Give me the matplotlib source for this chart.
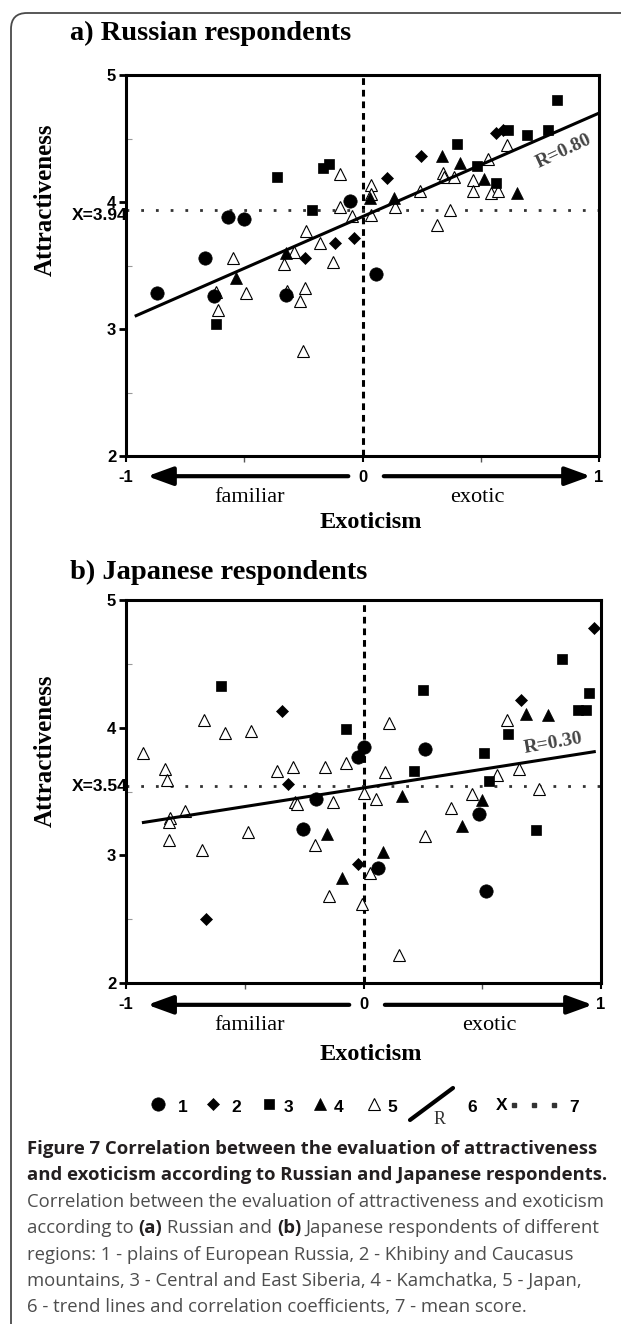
import numpy as np
import matplotlib
matplotlib.use("Agg")
import matplotlib.pyplot as plt
from matplotlib.patches import FancyBboxPatch
from matplotlib.transforms import blended_transform_factory

W, H = 621, 1324

# a) Russian respondents: exoticism (x) vs attractiveness (y), by region group
ru_plains_x = [-0.87, -0.665, -0.63, -0.568, -0.502, -0.325, -0.054, 0.056]
ru_plains_y = [3.28, 3.56, 3.26, 3.88, 3.87, 3.27, 4.01, 3.43]
ru_mount_x = [-0.245, -0.115, -0.035, 0.104, 0.247, 0.563, 0.592]
ru_mount_y = [3.56, 3.68, 3.72, 4.19, 4.36, 4.54, 4.57]
ru_sib_x = [-0.62, -0.36, -0.215, -0.166, -0.141, 0.398, 0.486, 0.564, 0.614, 0.697, 0.784, 0.823]
ru_sib_y = [3.04, 4.20, 3.94, 4.27, 4.30, 4.46, 4.28, 4.15, 4.57, 4.53, 4.57, 4.80]
ru_kam_x = [-0.534, -0.324, 0.03, 0.132, 0.336, 0.413, 0.512, 0.655]
ru_kam_y = [3.40, 3.60, 4.03, 4.03, 4.36, 4.31, 4.18, 4.07]
ru_jap_x = [-0.612, -0.62, -0.549, -0.491, -0.33, -0.32, -0.29, -0.265, -0.242, -0.25,
            -0.237, -0.178, -0.126, -0.094, -0.096, -0.043, 0.034, 0.034, 0.034, 0.139,
            0.245, 0.314, 0.37, 0.342, 0.346, 0.389, 0.468, 0.466, 0.53, 0.545, 0.574, 0.612]
ru_jap_y = [3.15, 3.29, 3.56, 3.28, 3.51, 3.30, 3.61, 3.22, 3.32, 2.83,
            3.77, 3.68, 3.53, 3.96, 4.22, 3.89, 4.13, 4.06, 3.90, 3.96,
            4.09, 3.82, 3.94, 4.23, 4.20, 4.20, 4.17, 4.09, 4.34, 4.07, 4.09, 4.45]
ru_trend = (0.815, 3.885)          # slope, intercept
ru_trend_span = (-0.963, 1.0)
ru_mean = 3.94
ru_r = 0.80

# b) Japanese respondents
jp_plains_x = [-0.256, -0.2, -0.024, 0.002, 0.06, 0.26, 0.485, 0.514]
jp_plains_y = [3.21, 3.44, 3.77, 3.85, 2.90, 3.83, 3.32, 2.72]
jp_mount_x = [-0.664, -0.345, -0.318, -0.023, 0.662, 0.97]
jp_mount_y = [2.50, 4.13, 3.555, 2.93, 4.22, 4.78]
jp_sib_x = [-0.599, -0.073, 0.211, 0.252, 0.508, 0.53, 0.61, 0.726, 0.834, 0.905, 0.935, 0.95]
jp_sib_y = [4.33, 3.99, 3.66, 4.295, 3.80, 3.585, 3.95, 3.20, 4.535, 4.14, 4.14, 4.27]
jp_kam_x = [-0.153, -0.089, 0.082, 0.163, 0.414, 0.498, 0.684, 0.776]
jp_kam_y = [3.165, 2.82, 3.03, 3.465, 3.23, 3.43, 4.11, 4.10]
jp_jap_x = [-0.928, -0.836, -0.826, -0.813, -0.817, -0.817, -0.75, -0.682, -0.672, -0.582,
            -0.487, -0.473, -0.363, -0.296, -0.288, -0.282, -0.204, -0.163, -0.13, -0.145,
            -0.075, 0.003, -0.005, 0.029, 0.053, 0.09, 0.106, 0.148, 0.258, 0.368,
            0.457, 0.56, 0.605, 0.654, 0.738]
jp_jap_y = [3.80, 3.68, 3.59, 3.29, 3.26, 3.12, 3.35, 3.045, 4.06, 3.96,
            3.18, 3.97, 3.66, 3.69, 3.42, 3.40, 3.08, 3.69, 3.415, 2.68,
            3.72, 3.485, 2.62, 2.86, 3.44, 3.655, 4.04, 2.22, 3.15, 3.37,
            3.48, 3.63, 4.06, 3.68, 3.52]
jp_trend = (0.292, 3.528)
jp_trend_span = (-0.933, 0.978)
jp_mean = 3.54
jp_r = 0.30

group_labels = ["1", "2", "3", "4", "5"]
x_ticks = [-1, 0, 1]
x_tick_labels = ["-1", "0", "1"]
y_ticks = [2, 3, 4, 5]

caption_lines = [
    [("Figure 7 Correlation between the evaluation of attractiveness", True)],
    [("and exoticism according to Russian and Japanese respondents.", True)],
    [("Correlation between the evaluation of attractiveness and exoticism", False)],
    [("according to", False), ("(a)", True), ("Russian and", False), ("(b)", True),
     ("Japanese respondents of different", False)],
    [("regions: 1 - plains of European Russia, 2 - Khibiny and Caucasus", False)],
    [("mountains, 3 - Central and East Siberia, 4 - Kamchatka, 5 - Japan,", False)],
    [("6 - trend lines and correlation coefficients, 7 - mean score.", False)],
]

SERIF = "Liberation Serif"
SANS = "Liberation Sans"
CAP = "Open Sans"
CAP_SIZE = 13.3

marker_styles = [
    dict(marker="o", ms=9.6, mfc="black", mec="black", mew=0.5),
    dict(marker="D", ms=6.6, mfc="black", mec="black", mew=0.5),
    dict(marker="s", ms=7.6, mfc="black", mec="black", mew=0.5),
    dict(marker="^", ms=9.2, mfc="black", mec="black", mew=0.5),
    dict(marker="^", ms=9.2, mfc="white", mec="black", mew=0.8),
]


def fx(px):
    return px / W


def fy(py):
    return 1 - py / H


fig = plt.figure(figsize=(W / 100, H / 100), dpi=100)
fig.patch.set_facecolor("white")

# pixel-space layer for the frame, legend and caption
over = fig.add_axes([0, 0, 1, 1])
over.set_xlim(0, W)
over.set_ylim(H, 0)
over.axis("off")
over.add_patch(FancyBboxPatch((11, 13), 700, 1400, boxstyle="round,pad=0,rounding_size=16",
                              fc="none", ec="#4a4a4a", lw=1.3, clip_on=False))


def draw_panel(rect, xs, ys, trend, span, mean, r, r_xy, r_rot, arrow_y, mean_dy):
    ax = fig.add_axes(rect)
    ax.set_facecolor("none")
    ax.set_xlim(-1, 1)
    ax.set_ylim(2, 5)
    ax.axvline(0, color="black", lw=2.2, dashes=(2.2, 1.6), zorder=1)
    ax.axhline(mean, color="#333333", lw=2.0, dashes=(1, 4.3), zorder=1)

    # open triangles underneath, filled markers on top
    for i in [4, 0, 1, 2, 3]:
        ax.plot(xs[i], ys[i], ls="none", zorder=3, clip_on=False, **marker_styles[i])

    slope, icpt = trend
    tx = np.array(span)
    ax.plot(tx, slope * tx + icpt, color="black", lw=2.2, zorder=4, solid_capstyle="butt")

    for s in ax.spines.values():
        s.set_linewidth(2.2)
    ax.set_xticks(x_ticks)
    ax.set_xticklabels(x_tick_labels)
    ax.set_xticks([-0.5, 0.5], minor=True)
    ax.set_yticks(y_ticks)
    ax.set_yticks([2.5, 3.5, 4.5], minor=True)
    ax.tick_params(axis="y", which="major", direction="out", length=5, width=2, pad=2, labelsize=12)
    ax.tick_params(axis="y", which="minor", direction="in", length=4, width=0.8, color="#999999")
    ax.tick_params(axis="x", which="major", direction="out", length=4, width=1.5, pad=6, labelsize=12)
    ax.tick_params(axis="x", which="minor", direction="out", length=4, width=1, color="#555555")
    for lab in ax.get_xticklabels() + ax.get_yticklabels():
        lab.set_fontfamily(SANS)
        lab.set_fontweight("bold")

    ax.annotate(f"X={mean:.2f}", xy=(-1.0, mean), xytext=(1, mean_dy),
                textcoords="offset points", ha="right", va="center", fontfamily=SANS,
                fontweight="bold", fontsize=12.5, annotation_clip=False)
    ax.text(r_xy[0], r_xy[1], f"R={r:.2f}", rotation=r_rot, rotation_mode="anchor",
            ha="center", va="center", color="#444444", fontfamily=SERIF,
            fontweight="bold", fontsize=14)

    trans = blended_transform_factory(ax.transData, ax.transAxes)
    for tail, tip in [(-0.06, -0.91), (0.09, 0.965)]:
        ax.annotate("", xy=(tip, arrow_y), xytext=(tail, arrow_y), xycoords=trans,
                    textcoords=trans, annotation_clip=False,
                    arrowprops=dict(arrowstyle="-|>,head_length=1.1,head_width=0.4",
                                    lw=3, color="black", shrinkA=0, shrinkB=0,
                                    mutation_scale=14))
    return ax


ru_xs = [ru_plains_x, ru_mount_x, ru_sib_x, ru_kam_x, ru_jap_x]
ru_ys = [ru_plains_y, ru_mount_y, ru_sib_y, ru_kam_y, ru_jap_y]
jp_xs = [jp_plains_x, jp_mount_x, jp_sib_x, jp_kam_x, jp_jap_x]
jp_ys = [jp_plains_y, jp_mount_y, jp_sib_y, jp_kam_y, jp_jap_y]

draw_panel([fx(126), fy(456), 473 / W, 381 / H], ru_xs, ru_ys, ru_trend, ru_trend_span,
           ru_mean, ru_r, (0.852, 4.40), 25, -0.053, -4.5)
draw_panel([fx(126), fy(983), 475 / W, 383 / H], jp_xs, jp_ys, jp_trend, jp_trend_span,
           jp_mean, jp_r, (0.797, 3.88), 10, -0.057, 0)

# panel titles and axis captions
for title, ty, ly, fam_y, exo_x, xl_y in [
        ("a) Russian respondents", 33, 200, 497, 477, 523),
        ("b) Japanese respondents", 572, 751, 1025, 489, 1055)]:
    fig.text(fx(70), fy(ty), title, ha="left", va="center", fontfamily=SERIF,
             fontweight="bold", fontsize=20.5)
    fig.text(fx(45), fy(ly), "Attractiveness", rotation=90, ha="center", va="center",
             fontfamily=SERIF, fontweight="bold", fontsize=18)
    fig.text(fx(250), fy(fam_y), "familiar", ha="center", va="center",
             fontfamily=SERIF, fontsize=16)
    fig.text(fx(exo_x), fy(fam_y), "exotic", ha="center", va="center",
             fontfamily=SERIF, fontsize=16)
    fig.text(fx(371), fy(xl_y), "Exoticism", ha="center", va="center",
             fontfamily=SERIF, fontweight="bold", fontsize=17.5)

# legend row
leg_y = 1104
leg_marker_x = [158, 213, 269, 320, 374]
leg_label_x = [183, 236, 288, 339, 392]
for i, lab in enumerate(group_labels):
    over.plot(leg_marker_x[i], leg_y, ls="none", **marker_styles[i])
    over.text(leg_label_x[i], leg_y + 3, lab, ha="center", va="center",
              fontfamily=SANS, fontweight="bold", fontsize=12.5)
over.plot([410, 453], [1120, 1088], color="black", lw=3, solid_capstyle="round")
over.text(440, 1120, "R", ha="center", va="center", fontfamily=SERIF, fontsize=13, color="#333333")
over.text(472, leg_y + 3, "6", ha="center", va="center", fontfamily=SANS, fontweight="bold", fontsize=12.5)
over.text(502, leg_y + 2, "X", ha="center", va="center", fontfamily=SANS, fontweight="bold", fontsize=12.5)
over.plot([514, 534, 554], [leg_y + 1] * 3, ls="none", marker="s", ms=2.6, color="#333333")
over.text(574, leg_y + 3, "7", ha="center", va="center", fontfamily=SANS, fontweight="bold", fontsize=12.5)

# figure caption, bold runs mixed into regular text
fig.canvas.draw()
renderer = fig.canvas.get_renderer()


def text_width(s, bold):
    t = fig.text(0, 0, s, fontfamily=CAP, fontsize=CAP_SIZE, fontweight="bold" if bold else "normal")
    w = t.get_window_extent(renderer).width
    t.remove()
    return w


space_w = text_width("a a", False) - text_width("aa", False)
for n, parts in enumerate(caption_lines):
    x = 27
    base = 1154 + 26.4 * n
    for k, (seg, bold) in enumerate(parts):
        if k > 0:
            x += space_w
        t = fig.text(fx(x), fy(base), seg, fontfamily=CAP, fontsize=CAP_SIZE,
                     fontweight="bold" if bold else "normal",
                     color="#231f20" if bold else "#4d4d4d", va="baseline")
        x += t.get_window_extent(renderer).width

fig.savefig("out.png", dpi=100)
